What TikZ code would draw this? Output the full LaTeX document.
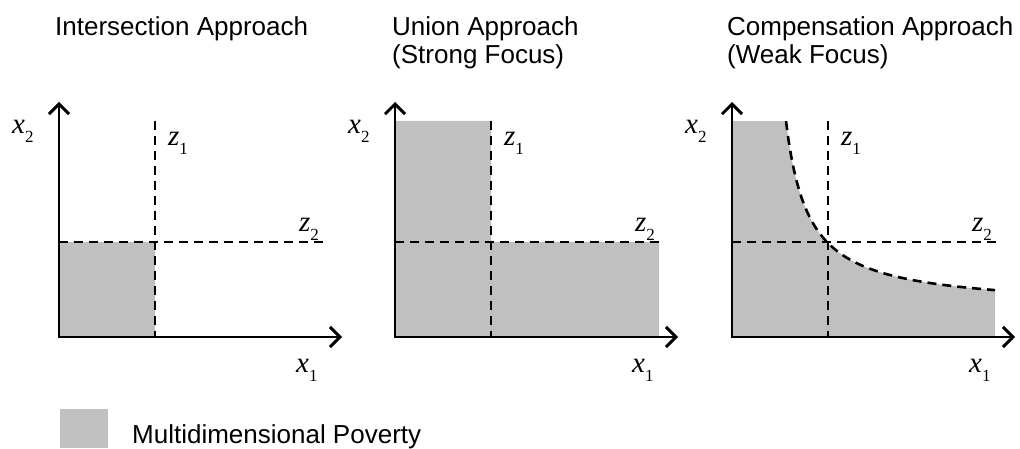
\documentclass[tikz,border=0pt]{standalone}
\usepackage{fontspec}
\setmainfont{Liberation Sans}
\newfontfamily\tms{Liberation Serif}
\usetikzlibrary{arrows.meta}
\definecolor{shade}{RGB}{192,192,192}
\newcommand{\axlab}[2]{{\fontsize{29}{29}\selectfont\tms\itshape #1}\raisebox{-9pt}{\fontsize{17}{17}\selectfont\tms #2}}
\begin{document}
\begin{tikzpicture}[x=1pt,y=-1pt,
  axis/.style={line width=2.9pt, {Straight Barb[length=10pt,width=20pt,line width=2.9pt]}-{Straight Barb[length=10pt,width=20pt,line width=2.9pt]}},
  guide/.style={line width=2.6pt, dash pattern=on 9pt off 6pt},
  area/.style={fill=shade, draw=none},
  title/.style={anchor=base west, inner sep=0pt, font=\fontsize{26}{29}\selectfont},
  lab/.style={anchor=base west, inner sep=0pt}]
\useasboundingbox (0,0) rectangle (1020,449);

% titles
\node[title] (t1) at (55,36) {Intersection Approach};
\node[title] (t2a) at (392,36) {Union Approach};
\node[title] (t2b) at (392,64) {(Strong Focus)};
\node[title] (t3a) at (727,36) {Compensation Approach};
\node[title] (t3b) at (727,64) {(Weak Focus)};

% panel 1
\begin{scope}[shift={(59,337)}]
  \coordinate (o1) at (0,0);
  \coordinate (ya1) at (0,-235);
  \coordinate (xa1) at (283,0);
  \coordinate (za1) at (96,-216);
  \coordinate (zb1) at (96,0);
  \coordinate (wa1) at (0,-95);
  \coordinate (wb1) at (264,-95);
  \fill[area] (o1) rectangle (96,-95);
  \draw[guide] (za1) -- (zb1);
  \draw[guide] (wa1) -- (wb1);
  \draw[axis] (ya1) -- (o1) -- (xa1);
  \node[lab] (lx2a) at (-47,-203) {\axlab{x}{2}};
  \node[lab] (lz1a) at (109,-191) {\axlab{z}{1}};
  \node[lab] (lz2a) at (240,-105) {\axlab{z}{2}};
  \node[lab] (lx1a) at (237,35) {\axlab{x}{1}};
\end{scope}

% panel 2
\begin{scope}[shift={(395,337)}]
  \coordinate (o2) at (0,0);
  \coordinate (ya2) at (0,-235);
  \coordinate (xa2) at (283,0);
  \coordinate (za2) at (96,-216);
  \coordinate (zb2) at (96,0);
  \coordinate (wa2) at (0,-95);
  \coordinate (wb2) at (264,-95);
  \fill[area] (0,-216) -- (96,-216) -- (96,-95) -- (264,-95) -- (264,0) -- (0,0) -- cycle;
  \draw[guide] (za2) -- (zb2);
  \draw[guide] (wa2) -- (wb2);
  \draw[axis] (ya2) -- (o2) -- (xa2);
  \node[lab] (lx2b) at (-47,-203) {\axlab{x}{2}};
  \node[lab] (lz1b) at (109,-191) {\axlab{z}{1}};
  \node[lab] (lz2b) at (240,-105) {\axlab{z}{2}};
  \node[lab] (lx1b) at (237,35) {\axlab{x}{1}};
\end{scope}

% panel 3
\begin{scope}[shift={(732,337)}]
  \coordinate (o3) at (0,0);
  \coordinate (ya3) at (0,-235);
  \coordinate (xa3) at (283,0);
  \coordinate (za3) at (96,-216);
  \coordinate (zb3) at (96,0);
  \coordinate (wa3) at (0,-95);
  \coordinate (wb3) at (264,-95);
  \fill[area] (0,-216) -- plot[domain=54:263,samples=80] (\x,{-(28.7+4210/(\x-31.5))}) -- (263,0) -- (0,0) -- cycle;
  \draw[guide] (za3) -- (zb3);
  \draw[guide] (wa3) -- (wb3);
  \draw[guide] plot[domain=54:263,samples=80] (\x,{-(28.7+4210/(\x-31.5))});
  \draw[axis] (ya3) -- (o3) -- (xa3);
  \node[lab] (lx2c) at (-47,-203) {\axlab{x}{2}};
  \node[lab] (lz1c) at (109,-191) {\axlab{z}{1}};
  \node[lab] (lz2c) at (240,-105) {\axlab{z}{2}};
  \node[lab] (lx1c) at (237,35) {\axlab{x}{1}};
\end{scope}

% legend
\fill[area] (60,409) rectangle (108,448);
\node[title] (leg) at (132,443) {Multidimensional Poverty};
\end{tikzpicture}
\end{document}
